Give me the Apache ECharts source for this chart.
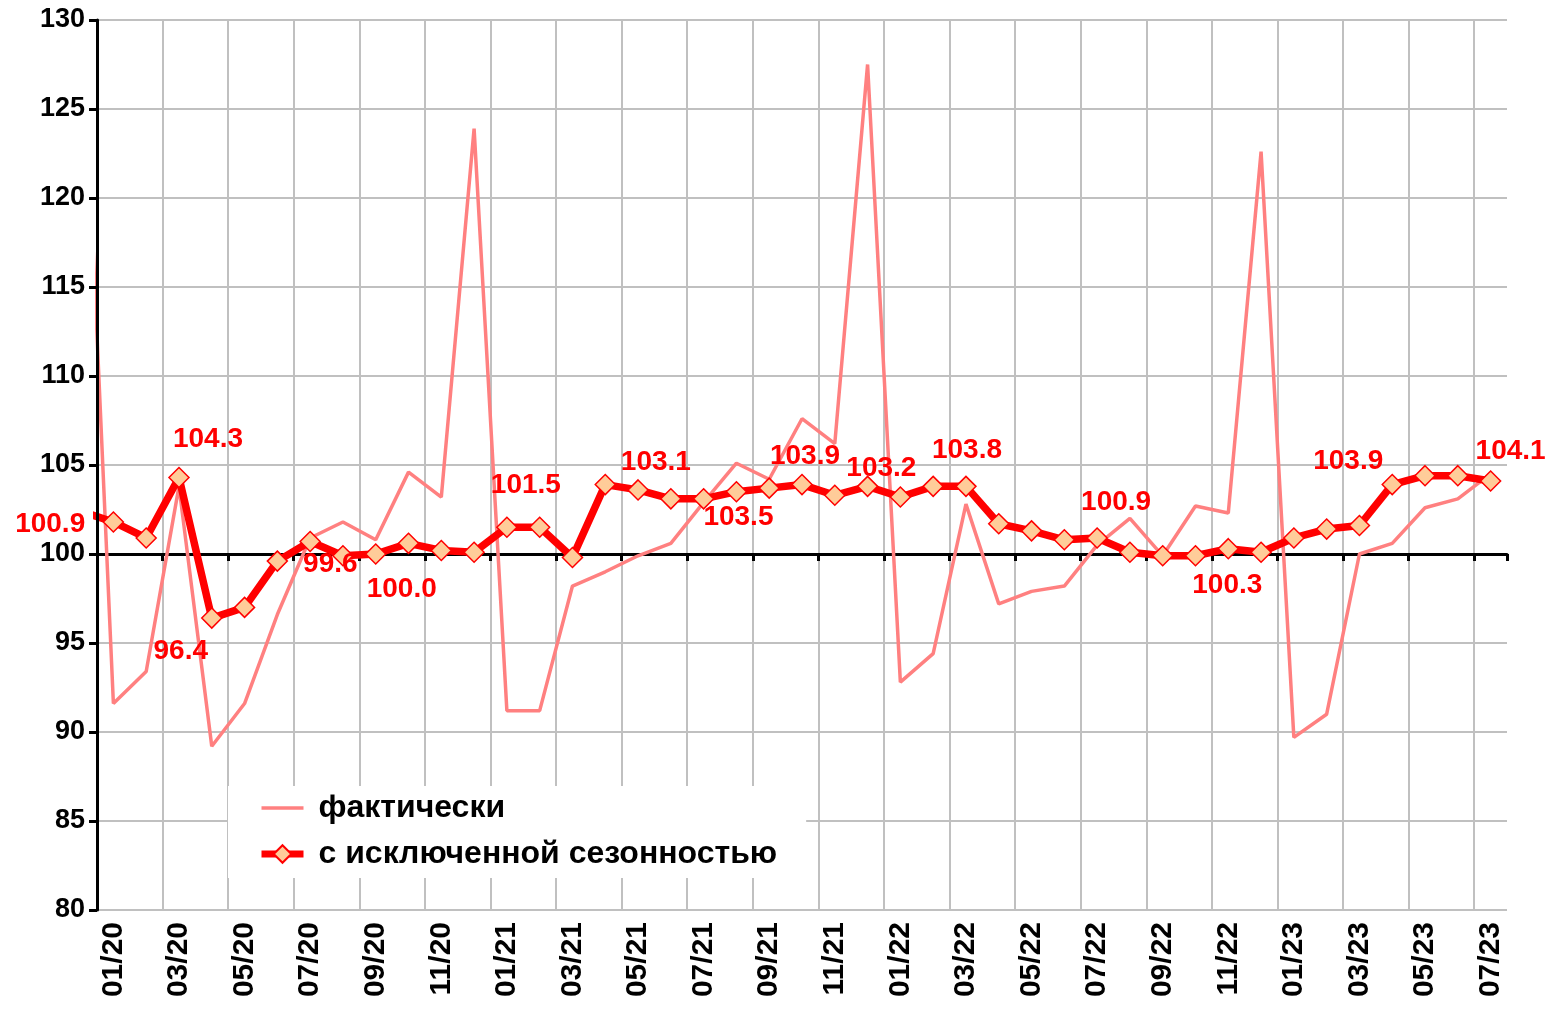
<!DOCTYPE html>
<html>
<head>
<meta charset="utf-8">
<title>фактически / с исключенной сезонностью</title>
<script src="https://cdn.jsdelivr.net/npm/echarts@6/dist/echarts.min.js"></script>
<style>
  html, body { margin: 0; padding: 0; background: #fff; }
  #chart { width: 1555px; height: 1009px; }
</style>
</head>
<body>
<div id="chart"></div>
<script>
// months; 12/19 is only there so the lines run in from the left edge (it is clipped)
const months = [
  '12/19',
  '01/20', '02/20', '03/20', '04/20', '05/20', '06/20', '07/20', '08/20', '09/20', '10/20', '11/20', '12/20',
  '01/21', '02/21', '03/21', '04/21', '05/21', '06/21', '07/21', '08/21', '09/21', '10/21', '11/21', '12/21',
  '01/22', '02/22', '03/22', '04/22', '05/22', '06/22', '07/22', '08/22', '09/22', '10/22', '11/22', '12/22',
  '01/23', '02/23', '03/23', '04/23', '05/23', '06/23', '07/23'
];

const actual = [
  133.0,
  91.6, 93.4, 103.8, 89.2, 91.6, 96.6, 100.9, 101.8, 100.8, 104.6, 103.2, 123.9,
  91.2, 91.2, 98.2, 99.0, 99.9, 100.6, 102.9, 105.1, 104.2, 107.6, 106.2, 127.5,
  92.8, 94.4, 102.8, 97.2, 97.9, 98.2, 100.5, 102.0, 99.9, 102.7, 102.3, 122.6,
  89.7, 91.0, 100.0, 100.6, 102.6, 103.1, 104.5
];

const seasonAdj = [
  102.4,
  101.8, 100.9, 104.3, 96.4, 97.0, 99.6, 100.7, 99.9, 100.0, 100.6, 100.2, 100.1,
  101.5, 101.5, 99.8, 103.9, 103.6, 103.1, 103.1, 103.5, 103.7, 103.9, 103.3, 103.8,
  103.2, 103.8, 103.8, 101.7, 101.3, 100.8, 100.9, 100.1, 99.9, 99.9, 100.3, 100.1,
  100.9, 101.4, 101.6, 103.9, 104.4, 104.4, 104.1
];

const labelledMonths = ['02/20', '03/20', '04/20', '06/20', '09/20', '01/21', '06/21', '08/21',
  '10/21', '01/22', '03/22', '07/22', '11/22', '04/23', '07/23'];

const yMin = 80, yMax = 130, yStep = 5, baseLine = 100;

// where each value label sits relative to its point
const labelOffsets = {
  '02/20': [-96, -14], '03/20': [29, -38], '04/20': [-31, 33], '06/20': [53, 3],
  '09/20': [26, 35], '01/21': [19, -42], '06/21': [-15, -37], '08/21': [2, 26],
  '10/21': [3, -28], '01/22': [-19, -29], '03/22': [1, -36], '07/22': [19, -36],
  '11/22': [-1, 37], '04/23': [-44, -23], '07/23': [20, -30]
};

const FONT = "'Liberation Sans', Arial, sans-serif";
const gridTop = 20, gridBottom = 99;
const plotH = 1009 - gridTop - gridBottom;
const baseOffset = -(baseLine - yMin) / (yMax - yMin) * plotH;

const everyOther = function (idx) { return idx % 2 === 1; };

const adjData = seasonAdj.map(function (v, i) {
  const m = months[i];
  if (labelledMonths.indexOf(m) < 0) return v;
  return {
    value: v,
    label: {
      show: true,
      position: 'inside',
      offset: labelOffsets[m],
      formatter: function (p) { return p.value.toFixed(1); },
      color: '#ff0000',
      fontFamily: FONT,
      fontWeight: 'bold',
      fontSize: 28
    }
  };
});

const chart = echarts.init(document.getElementById('chart'));
chart.setOption({
  animation: false,
  backgroundColor: '#fff',
  grid: { left: 97, right: 48, top: gridTop, bottom: gridBottom, containLabel: false, outerBoundsMode: 'none' },
  legend: {
    orient: 'vertical',
    left: 228,
    top: 786,
    backgroundColor: '#fff',
    padding: [6, 29, 8, 30],
    itemWidth: 42,
    itemHeight: 22,
    itemGap: 14,
    textStyle: { color: '#000', fontFamily: FONT, fontWeight: 'bold', fontSize: 32, lineHeight: 32, padding: [0, 0, 0, 10] },
    data: [
      { name: 'фактически', itemStyle: { opacity: 0 }, lineStyle: { width: 3.5 } },
      { name: 'с исключенной сезонностью', lineStyle: { width: 7 } }
    ]
  },
  xAxis: [{
    type: 'category',
    data: months,
    min: 1,
    boundaryGap: true,
    axisLine: { show: false },
    axisTick: { show: false },
    axisLabel: {
      interval: everyOther,
      rotate: 90,
      margin: 12,
      color: '#000',
      fontFamily: FONT,
      fontWeight: 'bold',
      fontSize: 30
    },
    splitLine: { show: true, showMaxLine: false, interval: everyOther, lineStyle: { color: '#c0c0c0', width: 2 } }
  }, {
    // horizontal line at 100 with its tick marks
    type: 'category',
    data: months,
    min: 1,
    boundaryGap: true,
    position: 'bottom',
    offset: baseOffset,
    axisLine: { show: true, lineStyle: { color: '#000', width: 3 } },
    axisTick: { show: true, interval: everyOther, length: 7, lineStyle: { color: '#000', width: 3 } },
    axisLabel: { show: false },
    splitLine: { show: false }
  }],
  yAxis: [{
    // grid lines, under the series
    type: 'value',
    min: yMin,
    max: yMax,
    interval: yStep,
    axisLine: { show: false },
    axisTick: { show: false },
    axisLabel: { show: false },
    splitLine: { show: true, lineStyle: { color: '#c0c0c0', width: 2 } }
  }, {
    // axis line, ticks and labels, drawn over the series
    type: 'value',
    position: 'left',
    min: yMin,
    max: yMax,
    interval: yStep,
    z: 10,
    axisLine: { show: true, lineStyle: { color: '#000', width: 3 } },
    axisTick: { show: true, length: 8, lineStyle: { color: '#000', width: 3 } },
    axisLabel: { margin: 12, color: '#000', fontFamily: FONT, fontWeight: 'bold', fontSize: 27 },
    splitLine: { show: false }
  }],
  series: [{
    name: 'фактически',
    type: 'line',
    data: actual,
    symbol: 'none',
    clip: true,
    lineStyle: { color: '#ff8080', width: 3.5 },
    itemStyle: { color: '#ff8080' },
    z: 3
  }, {
    name: 'с исключенной сезонностью',
    type: 'line',
    data: adjData,
    symbol: 'diamond',
    symbolSize: 20,
    clip: true,
    lineStyle: { color: '#ff0000', width: 7.5 },
    itemStyle: { color: '#ffcc99', borderColor: '#ff0000', borderWidth: 1.5 },
    z: 4
  }]
});
</script>
</body>
</html>
